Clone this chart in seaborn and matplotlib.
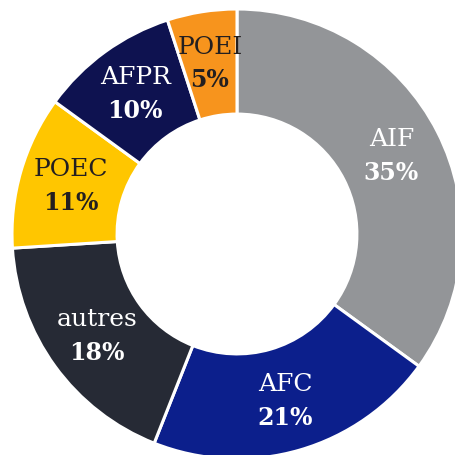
import numpy as np
import matplotlib
matplotlib.use("Agg")
import matplotlib.pyplot as plt
import seaborn as sns

# ── Data ─────────────────────────────────────────────────────
categories = ["AIF", "AFC", "autres", "POEC", "AFPR", "POEI"]
shares = [35, 21, 18, 11, 10, 5]
colors = ["#939598", "#0c1f8c", "#262a35", "#ffc600", "#0e1250", "#f7941d"]
text_colors = ["white", "white", "white", "#231f20", "white", "#231f20"]

sns.set_theme(style="white")
plt.rcParams["font.family"] = ["DejaVu Serif"]

fig = plt.figure(figsize=(4.55, 4.56), dpi=100)
ax = fig.add_axes([0, 0, 1, 1])

# ── Donut ────────────────────────────────────────────────────
ax.pie(shares, colors=sns.color_palette(colors), startangle=90,
       counterclock=False, radius=1.0,
       wedgeprops=dict(width=0.467, edgecolor="white", linewidth=2.2))

# labels in the middle of each ring segment
total = sum(shares)
cum = np.cumsum([0] + shares[:-1])
r_lab = 0.77
for name, val, c0, tc in zip(categories, shares, cum, text_colors):
    ang = np.deg2rad(90 - 360 * (c0 + val / 2) / total)
    x, y = r_lab * np.cos(ang), r_lab * np.sin(ang)
    ax.text(x, y + 0.075, name, ha="center", va="center",
            color=tc, fontsize=18)
    ax.text(x, y - 0.072, f"{val}%", ha="center", va="center",
            color=tc, fontsize=17, fontweight="bold")

# centre at (237, 235) px, outer radius 225 px; ring is cut at right/bottom
ax.set_xlim(-237 / 225, (455 - 237) / 225)
ax.set_ylim(-(456 - 235) / 225, 235 / 225)
ax.set_aspect("auto")
ax.axis("off")

plt.savefig("out.png", dpi=100)
